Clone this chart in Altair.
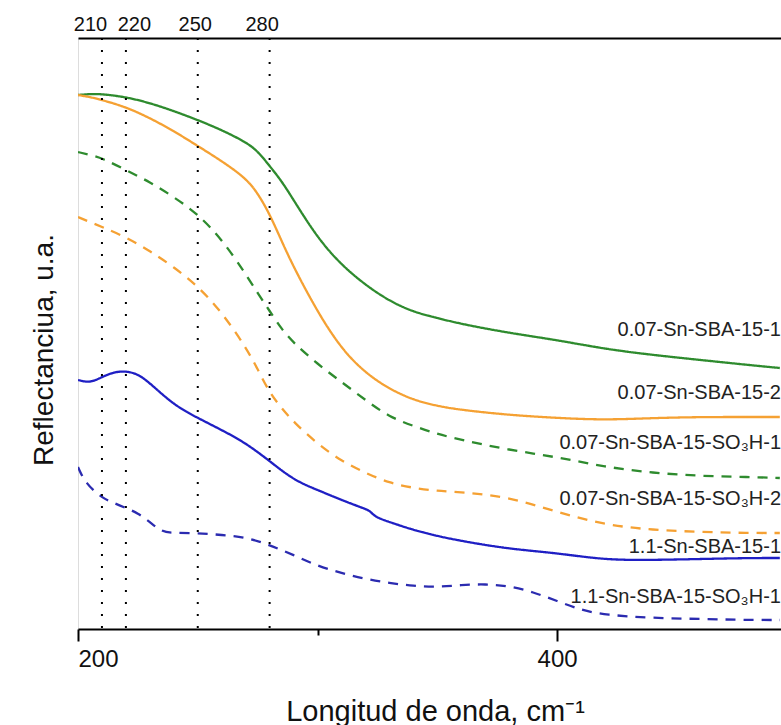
import altair as alt
import pandas as pd

# ---- data ----
series_names = [
    "0.07-Sn-SBA-15-1",
    "0.07-Sn-SBA-15-2",
    "0.07-Sn-SBA-15-SO₃H-1",
    "0.07-Sn-SBA-15-SO₃H-2",
    "1.1-Sn-SBA-15-1",
    "1.1-Sn-SBA-15-SO₃H-1",
]

wl_common = [200, 205, 210, 220, 230, 240, 250, 260, 270, 275, 280, 285, 290,
             300, 310, 320, 330, 340, 350, 360, 380, 400, 420, 440, 460, 480, 493]

g_solid = [53.4, 53.5, 53.5, 53.2, 52.6, 51.8, 50.9, 49.9, 48.7, 47.8, 46.3, 44.8, 42.9,
           39.1, 36.4, 34.4, 32.8, 31.7, 31.1, 30.5, 29.6, 28.9, 28.0, 27.4, 26.9, 26.4, 26.1]
o_solid = [53.4, 53.2, 52.9, 52.2, 51.1, 49.8, 48.3, 46.8, 45.1, 43.6, 41.5, 38.8, 36.2,
           31.7, 28.0, 25.6, 24.0, 22.9, 22.3, 21.9, 21.4, 21.1, 20.9, 21.1, 21.2, 21.2, 21.2]
g_dash = [47.7, 47.4, 47.1, 45.9, 44.7, 43.2, 41.5, 39.0, 35.5, 33.6, 31.8, 30.0, 28.6,
          26.5, 24.7, 22.9, 21.2, 20.3, 19.5, 18.9, 17.9, 17.2, 16.2, 15.6, 15.3, 15.2, 15.1]
o_dash = [41.2, 40.7, 40.2, 39.2, 37.8, 36.2, 34.3, 31.7, 28.2, 26.0, 23.6, 22.1, 20.7,
          18.5, 16.8, 15.6, 14.6, 14.1, 13.8, 13.7, 13.2, 11.7, 10.4, 9.9, 9.7, 9.6, 9.6]

wl_b_solid = [200, 205, 210, 215, 220, 225, 230, 240, 250, 260, 270, 280, 290, 300, 310,
              320, 322, 324, 330, 340, 350, 360, 380, 400, 420, 440, 460, 480, 493]
b_solid = [24.9, 24.6, 25.2, 25.7, 25.8, 25.5, 24.6, 22.4, 21.1, 19.9, 18.6, 16.8, 14.9, 13.9, 12.9,
           12.0, 11.8, 11.2, 10.7, 9.9, 9.3, 8.8, 8.0, 7.6, 6.9, 6.9, 7.0, 7.1, 7.1]

wl_b_dash = [200, 203, 210, 215, 220, 225, 230, 235, 240, 250, 260, 270, 280, 290, 300, 310,
             320, 330, 340, 350, 360, 370, 380, 390, 400, 410, 420, 440, 460, 480, 493]
b_dash = [16.2, 14.6, 13.1, 12.6, 12.1, 11.6, 10.7, 9.7, 9.6, 9.6, 9.4, 9.2, 8.4, 7.4, 6.3, 5.6,
          5.0, 4.6, 4.3, 4.2, 4.4, 4.5, 4.3, 3.7, 2.8, 1.9, 1.4, 1.1, 1.0, 0.9, 0.9]

marker_wl = [210, 220, 250, 280]
bottom_ticks = [200, 300, 400]

label_x = [493.5] * 6
label_y = [29.9, 23.6, 18.6, 13.0, 8.2, 3.2]

x_title = "Longitud de onda, cm⁻¹"
y_title = "Reflectanciua, u.a."

colors = ["#2e8b2e", "#f5a133", "#2e8b2e", "#f5a133", "#1f1fc4", "#2b2bb0"]
dashes = [[1, 0], [1, 0], [10, 8], [10, 8], [1, 0], [10, 8]]

# ---- build tables ----
series_x = [wl_common, wl_common, wl_common, wl_common, wl_b_solid, wl_b_dash]
series_y = [g_solid, o_solid, g_dash, o_dash, b_solid, b_dash]
rows = []
for name, xs, ys in zip(series_names, series_x, series_y):
    for i, (x, y) in enumerate(zip(xs, ys)):
        rows.append({"series": name, "wl": x, "r": y, "i": i})
df = pd.DataFrame(rows)
df_mark = pd.DataFrame({"wl": marker_wl})
df_lab = pd.DataFrame({"series": series_names, "wl": label_x, "r": label_y})
df_ytitle = pd.DataFrame({"t": [y_title]})

FONT = "Liberation Sans"
xscale = alt.Scale(domain=[200, 493.5], nice=False, zero=False)
yscale = alt.Scale(domain=[0, 59.1], nice=False, zero=False)

lines = alt.Chart(df).mark_line(interpolate="basis", strokeWidth=2.3, clip=True).encode(
    x=alt.X("wl:Q", scale=xscale,
            axis=alt.Axis(values=bottom_ticks, grid=False,
                          labelExpr="datum.value == 300 ? '' : datum.label",
                          tickSize={"condition": {"test": "datum.value == 300", "value": 6}, "value": 12},
                          tickWidth=2, tickColor="black", domainColor="black", domainWidth=2,
                          labelFontSize=24, labelPadding=6, labelColor="#111", labelFont=FONT,
                          title=x_title, titleFontSize=29, titleFontWeight="normal",
                          titleFont=FONT, titleColor="#111", titleX=357, titleY=91,
                          titleBaseline="alphabetic", titleAlign="center")),
    y=alt.Y("r:Q", scale=yscale,
            axis=alt.Axis(title=None, ticks=False, tickSize=0, labels=False,
                          grid=False, domainColor="black", domainWidth=2)),
    color=alt.Color("series:N", scale=alt.Scale(domain=series_names, range=colors), legend=None),
    strokeDash=alt.StrokeDash("series:N", scale=alt.Scale(domain=series_names, range=dashes), legend=None),
    detail="series:N",
    order="i:Q",
)

rules = alt.Chart(df_mark).mark_rule(color="black", strokeWidth=2, strokeDash=[2, 10]).encode(
    x=alt.X("wl:Q", scale=xscale,
            axis=alt.Axis(orient="top", values=marker_wl, ticks=False, tickSize=0, grid=False,
                          domainColor="black", domainWidth=2, title=None,
                          labelFontSize=20, labelPadding=4, labelFont=FONT, labelColor="#111",
                          labelOverlap=False,
                          labelOffset={"condition": [
                              {"test": "datum.value == 210", "value": -12},
                              {"test": "datum.value == 220", "value": 8},
                              {"test": "datum.value == 250", "value": -3}],
                              "value": -8})),
)

labels = alt.Chart(df_lab).mark_text(align="right", baseline="middle", fontSize=20,
                                     font=FONT, color="#222").encode(
    x=alt.X("wl:Q", scale=xscale, axis=None),
    y=alt.Y("r:Q", scale=yscale, axis=None),
    text="series:N",
)

ytitle = alt.Chart(df_ytitle).mark_text(angle=270, align="center", baseline="alphabetic",
                                        fontSize=28, font=FONT, color="#111").encode(
    x=alt.value(-25),
    y=alt.value(312),
    text="t:N",
)

chart = alt.layer(lines, rules, labels, ytitle).resolve_axis(x="independent").properties(
    width=703, height=591,
    autosize=alt.AutoSizeParams(type="none"),
    padding={"left": 78, "top": 38, "right": 0, "bottom": 96},
).configure_view(stroke=None).configure(background="white")

chart.save("out.html", embed_options={"renderer": "svg", "actions": False})
